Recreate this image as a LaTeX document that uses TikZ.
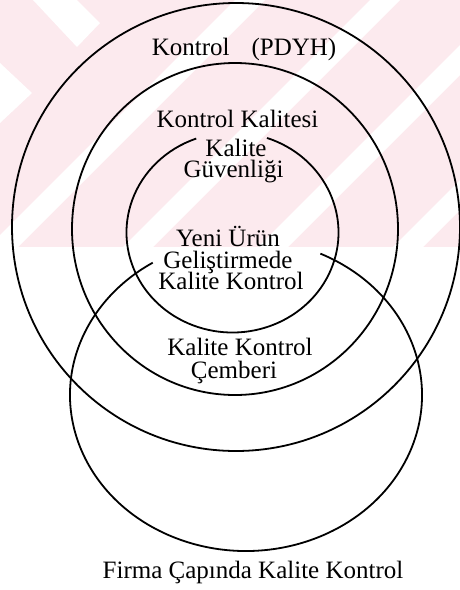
\documentclass[tikz,border=0pt]{standalone}
\usepackage{fontspec}
\setmainfont{Liberation Serif}
\definecolor{wmpink}{RGB}{252,234,238}
\tikzset{
  ring/.style={draw=black, line width=1.8pt},
  lbl/.style={font=\fontsize{25}{28}\selectfont, inner sep=0pt, anchor=base, text=black},
  wmband/.style={fill=white, draw=none}
}
\begin{document}
\begin{tikzpicture}[x=1pt,y=-1pt]
\useasboundingbox (0,0) rectangle (460,590);
\fill[white] (0,0) rectangle (460,590);
% watermark
\begin{scope}
  \clip (0,0) rectangle (460,247);
  \fill[wmpink] (0,0) rectangle (460,247);
  \foreach \c in {250,385,520,655} {
    \fill[wmband] (\c-15,0) -- (\c+15,0) -- (\c+15-247,247) -- (\c-15-247,247) -- cycle;
  }
  \fill[wmband] (33,0) -- (77,0) -- (100,23) -- (77,47) -- cycle;
  \fill[wmband] (0,63) -- (32,93) -- (0,123) -- cycle;
\end{scope}
% centres
\coordinate (c1) at (236,227);
\coordinate (c2) at (235,229);
\coordinate (c3) at (232.5,232.5);
\coordinate (c4) at (246,395);
% rings
\draw[ring] (c1) circle[x radius=224, y radius=224];
\draw[ring] (c2) circle[x radius=163, y radius=166];
\draw[ring] (c3) ++(-71:106 and 100) arc[start angle=-71, end angle=250, x radius=106, y radius=100];
\draw[ring] (c4) ++(-65:176 and 156) arc[start angle=-65, end angle=238, x radius=176, y radius=156];
% labels
\node[lbl] (t1) at (244,55) {Kontrol\hspace{22pt}(PDYH)};
\node[lbl] (t2) at (237.5,127) {Kontrol Kalitesi};
\node[lbl] (t3) at (236,156) {Kalite};
\node[lbl] (t4) at (233.5,177) {Güvenliği};
\node[lbl] (t5) at (228,246) {Yeni Ürün};
\node[lbl] (t6) at (228,268) {Geliştirmede};
\node[lbl] (t7) at (231,289) {Kalite Kontrol};
\node[lbl] (t8) at (240,355) {Kalite Kontrol};
\node[lbl] (t9) at (234,378) {Çemberi};
\node[lbl] (t10) at (253,578) {Firma Çapında Kalite Kontrol};
\end{tikzpicture}
\end{document}
